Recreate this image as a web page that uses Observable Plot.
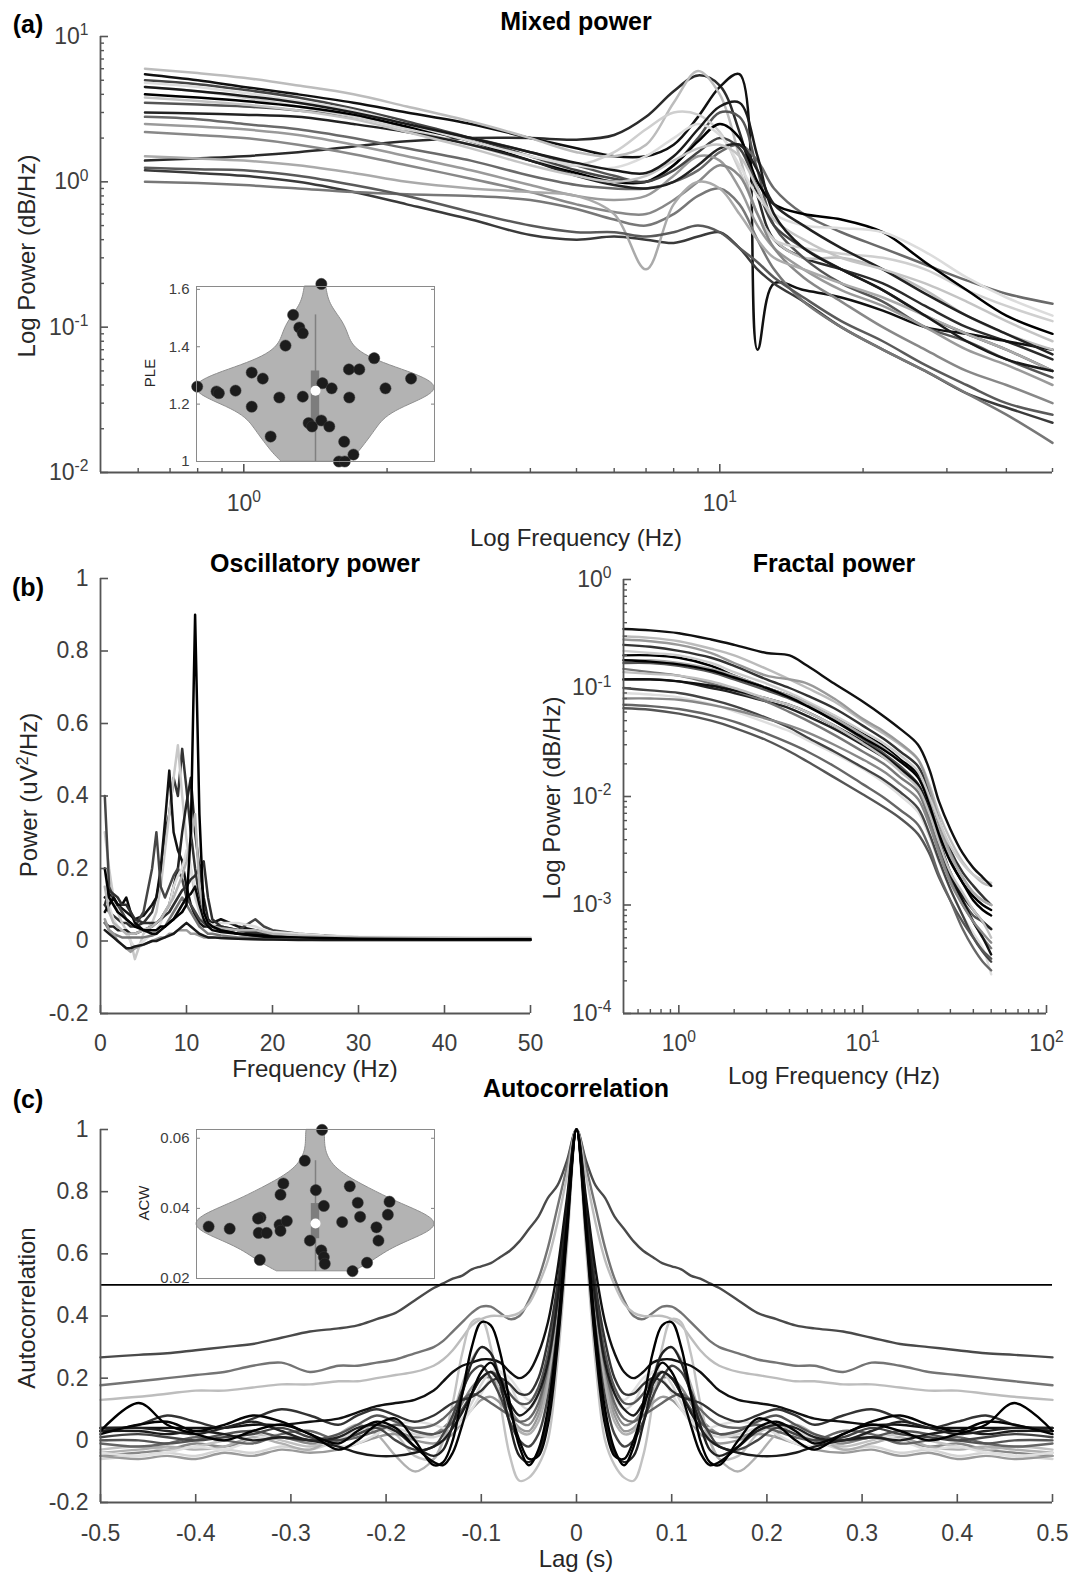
<!DOCTYPE html>
<html><head><meta charset="utf-8">
<script src="https://cdn.jsdelivr.net/npm/d3@7"></script>
<script src="https://cdn.jsdelivr.net/npm/@observablehq/plot@0.6"></script>
<style>
body{margin:0;background:#fff;}
#page{position:relative;width:1075px;height:1576px;overflow:hidden;background:#fff;font-family:"Liberation Sans",Arial,Helvetica,sans-serif;}
.lbl{position:absolute;white-space:nowrap;color:#262626;font-size:24px;line-height:1;}
.lbl sup{font-size:0.65em;line-height:0;}
</style></head>
<body><div id="page"></div>
<script>
// ---------------- DATA ----------------
// (a) Mixed power: frequency grid (Hz) and one row of power per subject
const mixedFreq = [0.62,0.8,1,1.3,1.7,2.2,3,4,5,6,7,8,9,10,11,12,13,15,18,22,27,33,40,50];
const mixedPower = [
 [1.4,1.45,1.5,1.6,1.75,1.9,2.0,2.0,1.95,2.1,2.8,4.2,5.4,4.6,2.2,0.8,0.4,0.3,0.25,0.2,0.14,0.1,0.08,0.06],
 [5.5,5.0,4.5,4.0,3.5,3.0,2.5,2.0,1.7,1.5,1.5,1.8,2.8,4.5,5.5,0.07,0.2,0.18,0.16,0.13,0.1,0.09,0.08,0.07],
 [6.0,5.6,5.2,4.6,4.0,3.3,2.6,2.0,1.6,1.5,1.8,3.5,5.8,4.0,1.5,0.6,0.4,0.3,0.3,0.25,0.18,0.12,0.09,0.07],
 [3.5,3.4,3.3,3.1,2.8,2.4,2.0,1.6,1.3,1.1,1.0,1.3,2.0,3.0,2.8,1.2,0.5,0.3,0.2,0.15,0.1,0.08,0.06,0.045],
 [4.5,4.2,3.8,3.3,2.8,2.3,1.8,1.4,1.3,1.6,2.3,3.0,2.9,2.2,1.2,0.6,0.4,0.35,0.32,0.3,0.25,0.18,0.14,0.11],
 [2.8,2.7,2.5,2.3,2.0,1.7,1.4,1.1,0.95,0.9,0.9,1.0,1.2,1.6,1.8,1.4,0.9,0.6,0.45,0.35,0.27,0.21,0.17,0.145],
 [1.2,1.15,1.1,1.0,0.85,0.7,0.55,0.43,0.4,0.42,0.4,0.38,0.42,0.45,0.35,0.25,0.2,0.15,0.1,0.07,0.05,0.035,0.028,0.022],
 [1.0,0.98,0.95,0.9,0.85,0.82,0.8,0.75,0.65,0.55,0.5,0.6,0.8,0.9,0.7,0.4,0.25,0.15,0.1,0.07,0.05,0.035,0.025,0.016],
 [4.0,3.8,3.6,3.3,2.9,2.4,1.9,1.4,1.15,1.0,1.0,1.3,1.9,2.5,2.0,1.0,0.7,0.6,0.55,0.45,0.28,0.18,0.12,0.09],
 [2.5,2.4,2.3,2.1,1.8,1.5,1.2,0.95,0.8,0.75,0.8,1.1,1.5,1.4,0.9,0.5,0.35,0.25,0.18,0.14,0.1,0.07,0.055,0.04],
 [5.0,4.7,4.3,3.8,3.2,2.6,2.0,1.5,1.2,1.05,1.0,1.2,1.6,2.0,1.7,0.9,0.5,0.35,0.25,0.18,0.12,0.09,0.07,0.05],
 [4.8,4.5,4.1,3.6,3.1,2.5,1.9,1.5,1.3,1.25,1.5,2.0,2.5,2.1,1.3,0.8,0.6,0.5,0.48,0.45,0.33,0.22,0.16,0.12],
 [2.2,2.1,2.0,1.8,1.55,1.3,1.05,0.85,0.7,0.62,0.6,0.75,1.0,1.3,1.1,0.6,0.35,0.22,0.15,0.1,0.07,0.05,0.04,0.03],
 [3.0,2.95,2.9,2.8,2.5,2.2,1.8,1.4,1.1,0.95,0.9,1.0,1.3,1.7,1.8,1.2,0.7,0.5,0.35,0.25,0.17,0.12,0.09,0.065],
 [1.5,1.45,1.4,1.3,1.15,1.0,0.9,0.85,0.8,0.6,0.25,0.7,1.0,0.9,0.6,0.4,0.3,0.25,0.2,0.16,0.12,0.09,0.07,0.05],
 [1.25,1.22,1.2,1.1,0.95,0.8,0.62,0.5,0.45,0.45,0.42,0.45,0.5,0.45,0.35,0.28,0.22,0.16,0.11,0.08,0.055,0.04,0.03,0.025],
 [3.8,3.6,3.4,3.1,2.7,2.2,1.7,1.3,1.1,1.0,1.1,1.4,1.7,1.8,1.5,0.9,0.55,0.4,0.3,0.25,0.2,0.15,0.11,0.08],
 [4.5,4.2,3.9,3.5,3.0,2.5,2.0,1.6,1.35,1.2,1.15,1.5,2.3,3.3,3.5,1.5,0.6,0.35,0.25,0.18,0.12,0.08,0.06,0.05]
];
// (a) inset: power-law exponent per subject and its horizontal jitter
const ple = [1.261,1.244,1.238,1.247,1.310,1.191,1.289,1.087,1.223,1.404,1.511,1.467,1.447,1.226,1.134,1.122,1.619,1.273,1.143,1.122,1.255,1.000,1.000,1.069,1.321,1.223,1.024,1.321,1.360,1.255,1.289];
const pleJitter = [-0.994,-0.832,-0.812,-0.672,-0.536,-0.536,-0.443,-0.377,-0.304,-0.252,-0.188,-0.136,-0.107,-0.107,-0.058,-0.029,0.049,0.058,0.049,0.116,0.136,0.197,0.246,0.241,0.281,0.284,0.319,0.368,0.493,0.588,0.803];

// (b) Oscillatory power
const oscFreq = [0.5,1,1.5,2,2.5,3,3.5,4,5,6,6.5,7,7.5,8,8.5,9,9.5,10,10.5,11,11.5,12,12.5,13,14,16,18,19,20,23,26,30,40,50];
const oscPower = [
 [0.1,0.08,0.07,0.06,0.05,0.05,0.04,0.04,0.05,0.08,0.12,0.18,0.3,0.35,0.45,0.4,0.53,0.42,0.3,0.2,0.12,0.08,0.06,0.05,0.04,0.03,0.02,0.02,0.015,0.01,0.008,0.006,0.005,0.005],
 [0.3,0.2,0.12,0.08,0.05,0.03,0.0,-0.05,0.02,0.05,0.08,0.15,0.25,0.35,0.45,0.54,0.4,0.28,0.2,0.12,0.08,0.05,0.04,0.03,0.03,0.02,0.015,0.015,0.01,0.008,0.006,0.005,0.005,0.005],
 [0.12,0.13,0.12,0.1,0.09,0.08,0.07,0.06,0.07,0.1,0.12,0.2,0.33,0.47,0.3,0.25,0.22,0.15,0.1,0.07,0.05,0.04,0.04,0.05,0.06,0.04,0.03,0.025,0.02,0.015,0.01,0.008,0.005,0.005],
 [0.05,0.04,0.04,0.03,0.03,0.03,0.02,0.02,0.03,0.04,0.05,0.06,0.08,0.1,0.15,0.2,0.3,0.38,0.45,0.3,0.2,0.12,0.06,0.04,0.03,0.02,0.02,0.015,0.012,0.01,0.008,0.006,0.005,0.005],
 [0.4,0.15,0.12,0.1,0.08,0.06,0.05,0.04,0.08,0.2,0.3,0.15,0.12,0.15,0.18,0.2,0.17,0.12,0.1,0.08,0.06,0.05,0.04,0.04,0.035,0.03,0.06,0.04,0.03,0.02,0.015,0.01,0.008,0.006],
 [0.2,0.1,0.06,0.04,0.03,0.02,0.0,-0.02,0.0,0.02,0.03,0.05,0.08,0.1,0.15,0.18,0.2,0.25,0.2,0.15,0.1,0.06,0.05,0.045,0.05,0.05,0.04,0.03,0.025,0.02,0.015,0.012,0.01,0.01],
 [0.05,0.03,0.02,0.015,0.01,0.01,0.01,0.01,0.01,0.015,0.02,0.03,0.04,0.06,0.08,0.1,0.12,0.1,0.08,0.06,0.04,0.03,0.02,0.02,0.015,0.01,0.01,0.01,0.008,0.006,0.005,0.004,0.004,0.004],
 [0.08,0.1,0.12,0.1,0.1,0.12,0.08,0.05,0.03,0.02,0.02,0.03,0.04,0.05,0.06,0.08,0.1,0.12,0.13,0.15,0.1,0.06,0.04,0.03,0.025,0.02,0.015,0.012,0.01,0.008,0.006,0.005,0.004,0.004],
 [0.06,0.03,0.02,0.0,-0.01,-0.02,-0.03,-0.02,-0.01,0.0,0.005,0.01,0.01,0.02,0.02,0.03,0.03,0.03,0.02,0.02,0.015,0.01,0.01,0.01,0.008,0.006,0.005,0.005,0.004,0.004,0.003,0.003,0.003,0.003],
 [0.1,0.14,0.13,0.12,0.1,0.1,0.08,0.06,0.05,0.05,0.05,0.06,0.07,0.08,0.1,0.12,0.14,0.15,0.17,0.18,0.2,0.22,0.12,0.06,0.04,0.03,0.025,0.02,0.015,0.012,0.01,0.008,0.006,0.005],
 [0.03,0.02,0.01,0.0,-0.01,-0.02,-0.02,-0.015,-0.01,0.0,0.0,0.005,0.01,0.015,0.02,0.03,0.04,0.05,0.04,0.03,0.02,0.015,0.01,0.01,0.008,0.006,0.005,0.004,0.004,0.003,0.003,0.003,0.003,0.003],
 [0.15,0.08,0.05,0.04,0.03,0.02,0.02,0.02,0.03,0.04,0.05,0.06,0.08,0.1,0.12,0.15,0.18,0.22,0.28,0.35,0.15,0.08,0.05,0.04,0.035,0.03,0.03,0.025,0.02,0.015,0.012,0.01,0.008,0.007],
 [0.2,0.12,0.1,0.08,0.07,0.06,0.05,0.04,0.03,0.03,0.03,0.04,0.04,0.05,0.06,0.07,0.08,0.1,0.3,0.9,0.35,0.08,0.05,0.04,0.03,0.02,0.015,0.015,0.012,0.01,0.008,0.006,0.005,0.005]
];

// (b) Fractal power
const fracFreq = [0.5,0.7,1,1.5,2,3,4,5,7,10,13,16,20,23,26,30,35,40,45,50];
const fracPower = [
 [0.3,0.29,0.27,0.23,0.2,0.15,0.12,0.1,0.075,0.05,0.038,0.03,0.022,0.013,0.007,0.004,0.0025,0.0019,0.0016,0.0015],
 [0.25,0.24,0.22,0.19,0.16,0.12,0.1,0.085,0.065,0.045,0.034,0.026,0.019,0.011,0.006,0.0032,0.002,0.0015,0.0012,0.001],
 [0.2,0.2,0.19,0.16,0.13,0.1,0.085,0.073,0.055,0.038,0.029,0.022,0.016,0.009,0.005,0.0026,0.0016,0.0012,0.001,0.0009],
 [0.28,0.27,0.25,0.21,0.17,0.13,0.12,0.11,0.08,0.052,0.04,0.031,0.022,0.012,0.006,0.003,0.0018,0.0013,0.0011,0.001],
 [0.17,0.17,0.16,0.14,0.12,0.095,0.08,0.068,0.05,0.034,0.025,0.019,0.013,0.007,0.0035,0.0018,0.0011,0.0008,0.0007,0.0006],
 [0.22,0.21,0.2,0.17,0.14,0.11,0.09,0.075,0.056,0.04,0.031,0.024,0.017,0.01,0.006,0.0035,0.0024,0.0019,0.0017,0.0016],
 [0.12,0.12,0.115,0.1,0.09,0.075,0.065,0.055,0.042,0.03,0.023,0.018,0.013,0.0075,0.004,0.002,0.0012,0.0009,0.0007,0.0006],
 [0.15,0.14,0.13,0.11,0.095,0.075,0.06,0.05,0.037,0.026,0.02,0.015,0.011,0.006,0.0032,0.0017,0.001,0.0007,0.0005,0.0004],
 [0.09,0.087,0.082,0.071,0.061,0.048,0.04,0.033,0.025,0.018,0.0135,0.0102,0.0072,0.0043,0.0025,0.0014,0.0008,0.00055,0.0004,0.00023],
 [0.1,0.095,0.09,0.078,0.068,0.053,0.043,0.035,0.026,0.0185,0.0143,0.011,0.0078,0.0046,0.0026,0.0014,0.0008,0.0005,0.00037,0.0003],
 [0.065,0.063,0.058,0.05,0.043,0.033,0.026,0.021,0.015,0.0105,0.008,0.0063,0.0045,0.003,0.0018,0.0011,0.0007,0.0005,0.00038,0.00032],
 [0.12,0.12,0.115,0.105,0.095,0.08,0.07,0.06,0.045,0.032,0.024,0.018,0.0125,0.007,0.0038,0.0019,0.0011,0.0007,0.0005,0.00035],
 [0.18,0.18,0.17,0.15,0.13,0.1,0.085,0.072,0.053,0.037,0.028,0.021,0.015,0.009,0.005,0.0028,0.0018,0.0013,0.0011,0.001],
 [0.07,0.068,0.064,0.056,0.049,0.038,0.031,0.026,0.019,0.013,0.0098,0.0075,0.0055,0.0034,0.0019,0.0011,0.0006,0.0004,0.0003,0.00025],
 [0.18,0.175,0.165,0.145,0.125,0.1,0.082,0.068,0.05,0.035,0.027,0.021,0.015,0.0085,0.0045,0.0025,0.0016,0.0011,0.0009,0.0008],
 [0.14,0.135,0.13,0.115,0.1,0.08,0.07,0.06,0.045,0.031,0.023,0.017,0.012,0.007,0.0038,0.002,0.0013,0.0009,0.0007,0.0005],
 [0.08,0.08,0.078,0.07,0.063,0.052,0.045,0.039,0.03,0.022,0.017,0.013,0.0095,0.0055,0.003,0.0016,0.001,0.0007,0.00055,0.00045],
 [0.35,0.34,0.32,0.28,0.25,0.21,0.2,0.16,0.11,0.075,0.055,0.042,0.03,0.018,0.009,0.005,0.003,0.0022,0.0018,0.0015]
];

// (c) Autocorrelation at non-negative lags (s); the function is even in lag
const acLag = [0,0.01,0.02,0.03,0.04,0.05,0.06,0.07,0.08,0.09,0.1,0.11,0.12,0.13,0.14,0.15,0.17,0.19,0.21,0.23,0.25,0.28,0.31,0.34,0.37,0.4,0.43,0.46,0.5];
const acValue = [
 [1,0.9,0.82,0.78,0.72,0.68,0.64,0.61,0.59,0.57,0.56,0.55,0.53,0.52,0.505,0.49,0.45,0.41,0.39,0.37,0.36,0.35,0.33,0.31,0.3,0.29,0.28,0.275,0.267],
 [1,0.88,0.75,0.62,0.52,0.45,0.4,0.39,0.41,0.43,0.43,0.41,0.38,0.35,0.32,0.3,0.28,0.26,0.25,0.24,0.24,0.22,0.25,0.24,0.22,0.21,0.2,0.19,0.177],
 [1,0.85,0.7,0.58,0.5,0.44,0.41,0.4,0.4,0.4,0.39,0.37,0.33,0.29,0.26,0.24,0.22,0.21,0.2,0.19,0.19,0.18,0.18,0.17,0.16,0.16,0.15,0.14,0.13],
 [1,0.72,0.42,0.22,0.1,0.05,0.06,0.1,0.16,0.2,0.2,0.17,0.12,0.07,0.04,0.02,0.01,0.03,0.04,0.02,0.0,-0.01,0.01,0.0,-0.02,-0.01,-0.03,-0.04,-0.05],
 [1,0.62,0.25,0.0,-0.08,-0.12,-0.13,-0.05,0.12,0.3,0.39,0.38,0.28,0.12,0.0,-0.06,-0.05,0.02,0.05,0.03,0.0,-0.02,0.0,0.02,0.0,-0.02,-0.03,-0.02,-0.03],
 [1,0.74,0.45,0.25,0.14,0.1,0.12,0.18,0.22,0.22,0.18,0.12,0.07,0.04,0.02,0.01,0.02,0.04,0.05,0.03,0.0,-0.03,-0.02,-0.04,-0.03,-0.05,-0.04,-0.05,-0.06],
 [1,0.7,0.4,0.2,0.08,0.03,0.04,0.08,0.12,0.14,0.13,0.1,0.06,0.02,0.0,-0.01,0.0,0.02,0.01,-0.01,-0.03,-0.04,-0.03,-0.05,-0.04,-0.06,-0.05,-0.06,-0.05],
 [1,0.7,0.4,0.18,0.06,0.02,0.03,0.1,0.2,0.28,0.3,0.26,0.18,0.08,0.0,-0.06,-0.1,-0.05,0.02,0.05,0.02,-0.03,-0.01,0.01,-0.02,-0.03,-0.02,-0.03,-0.04],
 [1,0.75,0.47,0.27,0.16,0.13,0.16,0.2,0.22,0.2,0.15,0.1,0.06,0.04,0.04,0.05,0.06,0.05,0.02,-0.01,-0.02,0.0,0.02,0.0,-0.03,-0.02,-0.04,-0.05,-0.04],
 [1,0.73,0.44,0.24,0.12,0.07,0.06,0.08,0.1,0.12,0.14,0.15,0.13,0.1,0.07,0.05,0.04,0.05,0.03,0.01,0.0,0.03,0.02,-0.01,0.0,0.01,-0.01,-0.02,-0.01],
 [1,0.75,0.48,0.28,0.17,0.12,0.12,0.15,0.2,0.22,0.2,0.15,0.1,0.06,0.03,0.02,0.03,0.06,0.08,0.05,0.02,0.0,0.01,0.03,0.02,0.0,-0.01,0.0,0.0],
 [1,0.69,0.36,0.14,0.02,-0.02,0.0,0.06,0.14,0.2,0.24,0.22,0.16,0.08,0.02,-0.02,-0.03,0.0,0.04,0.02,0.0,0.01,0.04,0.02,0.01,0.0,0.01,0.02,0.01],
 [1,0.76,0.5,0.32,0.2,0.15,0.15,0.18,0.2,0.19,0.16,0.14,0.13,0.12,0.1,0.08,0.06,0.08,0.1,0.08,0.05,0.08,0.1,0.07,0.04,0.06,0.08,0.05,0.03],
 [1,0.78,0.55,0.38,0.28,0.22,0.2,0.22,0.25,0.26,0.26,0.25,0.24,0.22,0.19,0.16,0.13,0.12,0.11,0.09,0.07,0.06,0.05,0.05,0.04,0.04,0.04,0.04,0.04],
 [1,0.72,0.45,0.25,0.15,0.1,0.08,0.12,0.18,0.22,0.2,0.15,0.09,0.04,0.0,-0.02,-0.04,-0.05,-0.05,-0.04,-0.02,0.0,0.01,0.0,0.02,0.03,0.02,0.03,0.03],
 [1,0.68,0.32,0.08,-0.04,-0.07,-0.05,0.05,0.18,0.28,0.3,0.25,0.15,0.05,-0.03,-0.05,-0.02,0.03,0.05,0.04,0.01,0.0,0.03,0.06,0.04,0.02,0.03,0.04,0.04],
 [1,0.66,0.3,0.05,-0.05,-0.06,0.0,0.1,0.2,0.25,0.22,0.15,0.05,-0.04,-0.08,-0.07,-0.02,0.04,0.06,0.03,-0.01,0.02,0.06,0.08,0.05,0.03,0.06,0.05,0.02],
 [1,0.7,0.35,0.1,-0.03,-0.08,-0.02,0.12,0.28,0.37,0.38,0.3,0.15,0.0,-0.07,-0.08,0.0,0.07,0.05,0.0,-0.03,0.02,0.05,0.03,0.0,0.02,0.05,0.12,0.03]
];
const acThreshold = 0.5;
// (c) inset: autocorrelation window per subject and its horizontal jitter
const acw = [0.0624,0.0536,0.0471,0.0439,0.0452,0.0463,0.0407,0.0416,0.0419,0.0382,0.0376,0.0374,0.0371,0.0348,0.0342,0.0330,0.0330,0.0353,0.0364,0.0336,0.0361,0.0346,0.0308,0.0308,0.0280,0.0261,0.0242,0.0253,0.0245,0.0221];
const acwJitter = [0.055,-0.090,-0.270,-0.294,0.003,0.288,0.070,0.355,0.622,0.608,0.375,-0.462,-0.483,-0.898,-0.721,-0.477,-0.410,-0.302,-0.241,-0.294,0.224,0.512,0.529,-0.047,0.049,0.070,0.078,-0.468,0.433,0.311];

// tick labels
const logTicksA_x = [1, 10];
const logTicksA_y = [0.01, 0.1, 1, 10];
const oscTicksX = [0, 10, 20, 30, 40, 50];
const oscTicksY = [-0.2, 0, 0.2, 0.4, 0.6, 0.8, 1];
const fracTicksX = [1, 10, 100];
const fracTicksY = [0.0001, 0.001, 0.01, 0.1, 1];
const acTicksX = [-0.5, -0.4, -0.3, -0.2, -0.1, 0, 0.1, 0.2, 0.3, 0.4, 0.5];
const acTicksY = [-0.2, 0, 0.2, 0.4, 0.6, 0.8, 1];
const pleTicks = [1, 1.2, 1.4, 1.6];
const acwTicks = [0.02, 0.04, 0.06];

// ---------------- STYLE ----------------
const mixedShade = ["#2b2b2b","#111111","#bcbcbc","#555555","#cfcfcf","#6a6a6a","#3a3a3a","#777777","#000000","#9a9a9a","#444444","#dcdcdc","#888888","#222222","#aaaaaa","#5a5a5a","#c4c4c4","#1a1a1a"];
const oscShade = ["#333333","#c8c8c8","#111111","#222222","#454545","#dddddd","#777777","#080808","#9a9a9a","#2e2e2e","#1a1a1a","#b5b5b5","#000000"];
const fracShade = ["#bbbbbb","#333333","#000000","#999999","#555555","#cccccc","#222222","#777777","#dedede","#444444","#555555","#111111","#aaaaaa","#666666","#000000","#c0c0c0","#888888","#111111"];
const acShade = ["#4a4a4a","#747474","#bdbdbd","#888888","#c2c2c2","#d5d5d5","#9a9a9a","#b0b0b0","#e0e0e0","#666666","#555555","#444444","#333333","#111111","#1c1c1c","#222222","#050505","#000000"];

const FONT = '"Liberation Sans", Arial, Helvetica, sans-serif';
const AXIS = "#555555";
const TXT = "#3d3d3d";
const page = document.getElementById("page");

function put(node, left, top, extra = {}) {
  node.style.position = "absolute";
  node.style.left = left + "px";
  node.style.top = top + "px";
  Object.assign(node.style, extra);
  page.appendChild(node);
}
function label(html, x, y, {size = 24, bold = false, rotate = false, color = "#262626"} = {}) {
  const d = document.createElement("div");
  d.className = "lbl";
  d.innerHTML = html;
  d.style.fontSize = size + "px";
  d.style.color = color;
  if (bold) d.style.fontWeight = "bold";
  d.style.left = x + "px";
  d.style.top = y + "px";
  d.style.transform = "translate(-50%,-50%)" + (rotate ? " rotate(-90deg)" : "");
  page.appendChild(d);
}
function superscripts(svg) {
  svg.querySelectorAll("text").forEach(t => {
    const m = /^10\^(-?\d+)$/.exec(t.textContent);
    if (!m) return;
    t.textContent = "";
    const ns = "http://www.w3.org/2000/svg";
    const a = document.createElementNS(ns, "tspan"); a.textContent = "10";
    const b = document.createElementNS(ns, "tspan"); b.textContent = m[1];
    b.setAttribute("dy", "-0.55em"); b.setAttribute("font-size", "0.68em");
    t.append(a, b);
  });
}
const powFmt = d => "10^" + Math.round(Math.log10(d));
const numFmt = d => String(d);
const minorLog = decades => decades.flatMap(p => [2,3,4,5,6,7,8,9].map(k => k * p));

function lines(xs, rows, shades, {curve = "catmull-rom", width = 2.4} = {}) {
  return rows.map((row, i) => Plot.line(
    xs.slice(0, row.length).map((x, j) => ({x, y: row[j]})),
    {x: "x", y: "y", stroke: shades[i % shades.length], strokeWidth: width, curve}
  ));
}
function axes({xMin, yMin, xTicks, yTicks, xMinor = [], yMinor = [], xFmt, yFmt, xPad, yPad}) {
  const m = [];
  if (xMinor.length) m.push(Plot.axisX({ticks: xMinor, tickSize: -4, tickFormat: () => "", stroke: AXIS, strokeWidth: 1.4, label: null}));
  if (yMinor.length) m.push(Plot.axisY({ticks: yMinor, tickSize: -4, tickFormat: () => "", stroke: AXIS, strokeWidth: 1.4, label: null}));
  m.push(Plot.axisX({ticks: xTicks, tickSize: -8, tickFormat: () => "", stroke: AXIS, strokeWidth: 1.6, label: null}));
  m.push(Plot.axisY({ticks: yTicks, tickSize: -8, tickFormat: () => "", stroke: AXIS, strokeWidth: 1.6, label: null}));
  m.push(Plot.axisX({ticks: xTicks, tickSize: 0, tickPadding: xPad, tickFormat: xFmt, fill: TXT, label: null}));
  m.push(Plot.axisY({ticks: yTicks, tickSize: 0, tickPadding: yPad, tickFormat: yFmt, fill: TXT, label: null}));
  m.push(Plot.ruleY([yMin], {stroke: AXIS, strokeWidth: 1.8}));
  m.push(Plot.ruleX([xMin], {stroke: AXIS, strokeWidth: 1.8}));
  return m;
}
function violin(values, jitter, {domain, ticks, fmt, h, width, height, mt, mb, ml}) {
  const lo = d3.min(values), hi = Math.min(d3.max(values), domain[1]);
  const grid = d3.range(0, 81).map(i => lo + (hi - lo) * i / 80);
  const dens = grid.map(v => ({v, d: d3.mean(values, x => Math.exp(-0.5 * ((v - x) / h) ** 2))}));
  const dmax = d3.max(dens, e => e.d);
  dens.forEach(e => e.w = e.d / dmax);
  const sorted = values.slice().sort(d3.ascending);
  const q1 = d3.quantile(sorted, 0.25), q3 = d3.quantile(sorted, 0.75), med = d3.median(sorted);
  const iqr = q3 - q1;
  const wHi = d3.max(sorted.filter(v => v <= q3 + 1.5 * iqr));
  const wLo = d3.min(sorted.filter(v => v >= q1 - 1.5 * iqr));
  const idx = values.map((_, i) => i);
  const svg = Plot.plot({
    width, height, marginTop: mt, marginBottom: mb, marginLeft: ml, marginRight: 6,
    x: {domain: [-1, 1], axis: null},
    y: {domain},
    style: {fontFamily: FONT, fontSize: "15px", color: TXT, background: "transparent", overflow: "hidden"},
    marks: [
      Plot.frame({fill: "white", stroke: null}),
      Plot.areaX(dens, {y: "v", x1: e => -e.w, x2: e => e.w, fill: "#b3b3b3", stroke: "#8f8f8f", strokeWidth: 1, curve: "basis"}),
      Plot.ruleX([0], {y1: wLo, y2: wHi, stroke: "#808080", strokeWidth: 1.5}),
      Plot.rect([0], {x1: -0.035, x2: 0.035, y1: q1, y2: q3, fill: "#7d7d7d"}),
      Plot.dot(idx, {x: i => jitter[i], y: i => values[i], r: 5.6, fill: "#1c1c1c", stroke: "#3a3a3a", strokeWidth: 0.5}),
      Plot.dot([med], {x: 0, y: d => d, r: 5, fill: "white"}),
      Plot.axisY({ticks, tickSize: -4, tickFormat: () => "", stroke: "#808080", label: null}),
      Plot.axisY({ticks, anchor: "right", tickSize: -4, tickFormat: () => "", stroke: "#808080", label: null}),
      Plot.axisY({ticks, tickSize: 0, tickPadding: 7, tickFormat: fmt, fill: TXT, label: null}),
      Plot.frame({stroke: "#8a8a8a", strokeWidth: 1})
    ]
  });
  return svg;
}

// ---------------- (a) Mixed power ----------------
const svgA = Plot.plot({
  width: 1075, height: 530, marginLeft: 100, marginRight: 23, marginTop: 36, marginBottom: 58,
  x: {type: "log", domain: [0.5, 50]},
  y: {type: "log", domain: [0.01, 10]},
  style: {fontFamily: FONT, fontSize: "23px", color: TXT, background: "transparent", overflow: "visible"},
  marks: [
    ...lines(mixedFreq, mixedPower, mixedShade, {width: 2.5}),
    ...axes({xMin: 0.5, yMin: 0.01, xTicks: logTicksA_x, yTicks: logTicksA_y,
      xMinor: [0.6,0.7,0.8,0.9,2,3,4,5,6,7,8,9,20,30,40,50], yMinor: minorLog([0.01,0.1,1]),
      xFmt: powFmt, yFmt: powFmt, xPad: 22, yPad: 12})
  ]
});
superscripts(svgA);
put(svgA, 0, 0);
put(violin(ple, pleJitter, {domain: [1, 1.61], ticks: pleTicks, fmt: numFmt, h: 0.055, width: 304, height: 195, mt: 10, mb: 10, ml: 60}), 136, 276);

// ---------------- (b) Oscillatory power ----------------
const svgB1 = Plot.plot({
  width: 560, height: 530, marginLeft: 100, marginRight: 30, marginTop: 38, marginBottom: 57,
  x: {domain: [0, 50]},
  y: {domain: [-0.2, 1]},
  style: {fontFamily: FONT, fontSize: "23px", color: TXT, background: "transparent", overflow: "visible"},
  marks: [
    ...lines(oscFreq, oscPower, oscShade, {curve: "linear", width: 2.5}),
    ...axes({xMin: 0, yMin: -0.2, xTicks: oscTicksX, yTicks: oscTicksY, xFmt: numFmt, yFmt: numFmt, xPad: 21, yPad: 12})
  ]
});
put(svgB1, 0, 540);

// ---------------- (b) Fractal power ----------------
const svgB2 = Plot.plot({
  width: 535, height: 530, marginLeft: 83, marginRight: 29, marginTop: 39, marginBottom: 57,
  x: {type: "log", domain: [0.5, 100]},
  y: {type: "log", domain: [0.0001, 1]},
  style: {fontFamily: FONT, fontSize: "23px", color: TXT, background: "transparent", overflow: "visible"},
  marks: [
    ...lines(fracFreq, fracPower, fracShade, {width: 2.4}),
    ...axes({xMin: 0.5, yMin: 0.0001, xTicks: fracTicksX, yTicks: fracTicksY,
      xMinor: [0.6,0.7,0.8,0.9,2,3,4,5,6,7,8,9,20,30,40,50,60,70,80,90], yMinor: minorLog([0.0001,0.001,0.01,0.1]),
      xFmt: powFmt, yFmt: powFmt, xPad: 21, yPad: 12})
  ]
});
superscripts(svgB2);
put(svgB2, 540, 540);

// ---------------- (c) Autocorrelation ----------------
const acLagsFull = [...acLag.slice(1).reverse().map(l => -l), ...acLag];
const acRowsFull = acValue.map(r => [...r.slice(1).reverse(), ...r]);
const svgC = Plot.plot({
  width: 1075, height: 486, marginLeft: 100, marginRight: 23, marginTop: 39, marginBottom: 74,
  x: {domain: [-0.5, 0.5]},
  y: {domain: [-0.2, 1]},
  style: {fontFamily: FONT, fontSize: "23px", color: TXT, background: "transparent", overflow: "visible"},
  marks: [
    ...lines(acLagsFull, acRowsFull, acShade, {width: 2.4}),
    Plot.ruleY([acThreshold], {stroke: "#000", strokeWidth: 1.6}),
    ...axes({xMin: -0.5, yMin: -0.2, xTicks: acTicksX, yTicks: acTicksY, xFmt: numFmt, yFmt: numFmt, xPad: 22, yPad: 12})
  ]
});
put(svgC, 0, 1090);
put(violin(acw, acwJitter, {domain: [0.02, 0.0625], ticks: acwTicks, fmt: d => d.toFixed(2), h: 0.0042, width: 304, height: 164, mt: 10, mb: 5, ml: 60}), 136, 1119);

// ---------------- texts ----------------
label("(a)", 28, 24, {size: 25, bold: true, color: "#000"});
label("(b)", 28, 587, {size: 25, bold: true, color: "#000"});
label("(c)", 28, 1099, {size: 25, bold: true, color: "#000"});
label("Mixed power", 576, 21, {size: 25, bold: true, color: "#000"});
label("Oscillatory power", 315, 563, {size: 25, bold: true, color: "#000"});
label("Fractal power", 834, 563, {size: 25, bold: true, color: "#000"});
label("Autocorrelation", 576, 1088, {size: 25, bold: true, color: "#000"});
label("Log Power (dB/Hz)", 27, 256, {rotate: true});
label("Log Frequency (Hz)", 576, 538);
label("Power (uV<sup>2</sup>/Hz)", 29, 795, {rotate: true});
label("Frequency (Hz)", 315, 1069);
label("Log Power (dB/Hz)", 552, 798, {rotate: true});
label("Log Frequency (Hz)", 834, 1076);
label("Autocorrelation", 27, 1308, {rotate: true});
label("Lag (s)", 576, 1559);
label("PLE", 149, 373, {size: 15, rotate: true});
label("ACW", 143, 1203, {size: 15, rotate: true});
</script>
</body></html>
